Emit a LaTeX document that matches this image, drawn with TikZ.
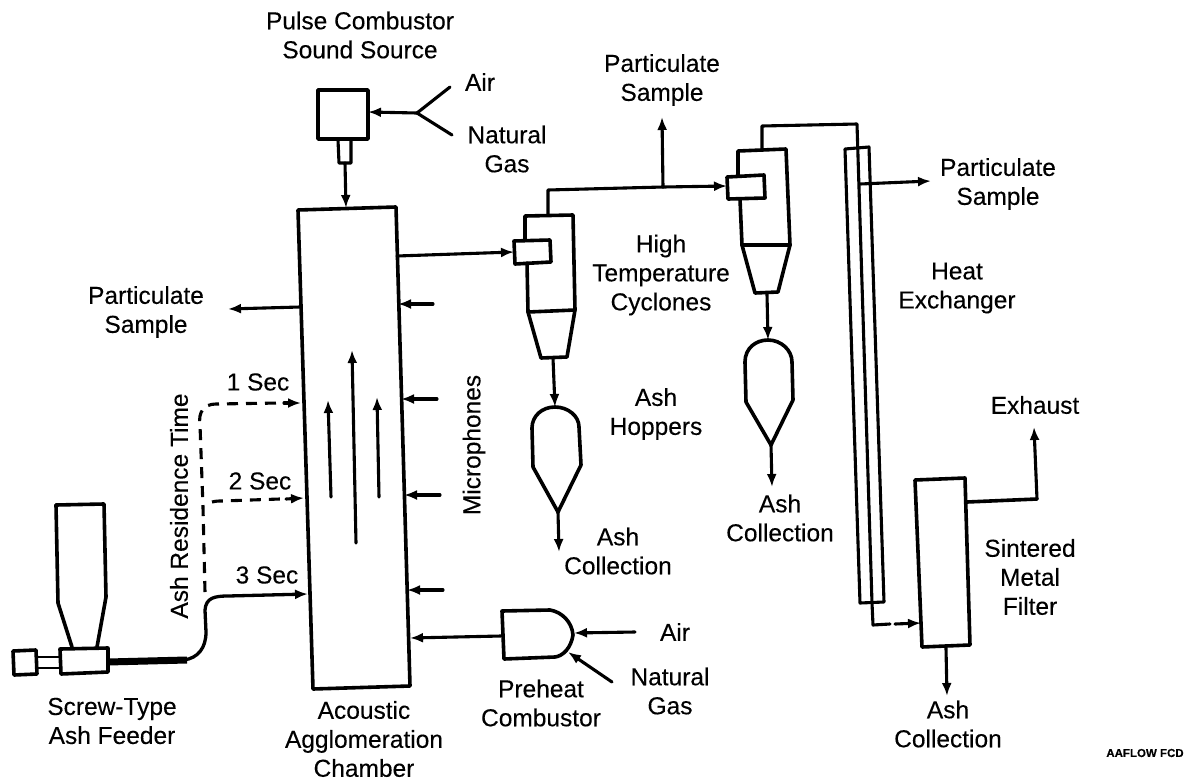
\documentclass[tikz,border=0pt]{standalone}
\usepackage{fontspec}
\setmainfont[FakeBold=0.2]{Liberation Sans}
\usetikzlibrary{arrows.meta}
\tikzset{
  lbl/.style={align=center,inner sep=0pt,font=\fontsize{24.5}{29}\selectfont},
  tiny/.style={inner sep=0pt,font=\fontsize{11.5}{13}\bfseries\selectfont},
  unit/.style={line width=3.6pt,line join=round,line cap=round},
  pipe/.style={line width=3.1pt,line cap=round},
  flow/.style={pipe,-{Latex[length=13pt,width=10pt]}},
  dashline/.style={line width=3.1pt,dash pattern=on 11pt off 8pt},
}
\begin{document}
\begin{tikzpicture}[x=1pt,y=-1pt]
\useasboundingbox (0,0) rectangle (1187,782);
% --- coordinates of the equipment connection points
\coordinate (chTop) at (346,208);
\coordinate (nozzle) at (345,163);
\coordinate (combR) at (368,112);
\coordinate (fork) at (417,113);
\coordinate (forkA) at (450,87);
\coordinate (forkB) at (452,135);
\coordinate (chOut) at (397,256);
\coordinate (cyc1In) at (514,252);
\coordinate (cyc1Top) at (548,215);
\coordinate (cyc1Up) at (548,190);
\coordinate (tee) at (663,187);
\coordinate (sampTop) at (662,117);
\coordinate (cyc2In) at (727,186);
\coordinate (cyc2Top) at (762,150);
\coordinate (cyc2Up) at (762,126);
\coordinate (hxTop) at (857,124);
\coordinate (hxBot) at (872,603);
\coordinate (hxLow) at (873,625);
\coordinate (hxDash) at (890,624);
\coordinate (filtIn) at (921,623);
\coordinate (hxSideA) at (860,184);
\coordinate (hxSideB) at (931,181);
\coordinate (filtOut) at (967,502);
\coordinate (exhElb) at (1037,499);
\coordinate (exhTip) at (1034,427);
\coordinate (filtBot) at (946,648);
\coordinate (filtTip) at (947,696);
\coordinate (cyc1Bot) at (553,358);
\coordinate (hop1Top) at (555,407);
\coordinate (hop1Apex) at (558,512);
\coordinate (hop1Tip) at (559,552);
\coordinate (cyc2Bot) at (767,294);
\coordinate (hop2Top) at (768,340);
\coordinate (hop2Apex) at (771,445);
\coordinate (hop2Tip) at (772,487);
\coordinate (feedOut) at (108,662);
\coordinate (feedThick) at (187,660);
% --- acoustic agglomeration chamber
\draw[unit] (298,210) -- (396,207) -- (410,686) -- (313,689) -- cycle;
\draw[flow] (331,497) -- (328,400);
\draw[flow] (356,543) -- (352,350);
\draw[flow] (379,497) -- (377,397);
% microphones
\coordinate (m1) at (433,304); \coordinate (m1e) at (398,304);
\coordinate (m2) at (437,399); \coordinate (m2e) at (401,399);
\coordinate (m3) at (440,495); \coordinate (m3e) at (404,495);
\coordinate (m4) at (443,590); \coordinate (m4e) at (407,590);
\draw[flow] (m1) -- (m1e);
\draw[flow] (m2) -- (m2e);
\draw[flow] (m3) -- (m3e);
\draw[flow] (m4) -- (m4e);
\coordinate (chSide) at (300,307); \coordinate (sampL) at (228,309);
\draw[flow] (chSide) -- (sampL);
% --- pulse combustor
\draw[unit] (318,90) rectangle (368,139);
\draw[line width=3.1pt,line join=round] (338,140) -- (339,163) -- (351,163) -- (351,140);
\draw[flow] (nozzle) -- (chTop);
\draw[flow] (fork) -- (combR);
\draw[pipe,line join=round] (forkA) -- (fork) -- (forkB);
\draw[flow] (chOut) -- (cyc1In);
% --- cyclones
\draw[unit] (525,240) -- (525,216) -- (573,215) -- (575,310) -- (567,357) -- (541,358) -- (528,312) -- (527,263);
\draw[unit] (528,312) -- (575,310);
\draw[unit] (514,241) -- (550,240) -- (551,262) -- (515,264) -- cycle;
\draw[unit] (738,175) -- (738,151) -- (786,149) -- (790,245) -- (778,292) -- (755,293) -- (742,245) -- (740,199);
\draw[unit] (742,245) -- (790,245);
\draw[unit] (727,177) -- (764,175) -- (765,198) -- (728,199) -- cycle;
\draw[pipe,line join=round] (cyc1Top) -- (cyc1Up) -- (tee);
\draw[flow] (tee) -- (sampTop);
\draw[flow] (tee) -- (cyc2In);
\draw[pipe,line join=round] (cyc2Top) -- (cyc2Up) -- (hxTop) -- (hxBot);
% --- hoppers
\draw[unit] (hop1Top) .. controls (542,407) and (532,416) .. (532,428) -- (533,467) -- (hop1Apex) -- (581,465) -- (579,427) .. controls (579,416) and (568,407) .. (hop1Top);
\draw[unit] (hop2Top) .. controls (756,340) and (745,348) .. (745,362) -- (746,402) -- (hop2Apex) -- (793,400) -- (792,362) .. controls (792,350) and (781,340) .. (hop2Top);
\draw[flow] (cyc1Bot) -- (hop1Top);
\draw[flow] (hop1Apex) -- (hop1Tip);
\draw[flow] (cyc2Bot) -- (hop2Top);
\draw[flow] (hop2Apex) -- (hop2Tip);
% --- heat exchanger
\draw[line width=3.1pt,line join=round] (860,603) -- (845,149) -- (869,147) -- (884,602) -- cycle;
\draw[flow] (hxSideA) -- (hxSideB);
\draw[pipe,line join=round] (hxBot) -- (hxLow) -- (hxDash);
\draw[flow] (895,624) -- (filtIn);
% --- sintered metal filter
\draw[unit] (915,480) -- (965,478) -- (970,645) -- (922,647) -- cycle;
\draw[unit] (filtOut) -- (exhElb);
\draw[flow] (exhElb) -- (exhTip);
\draw[flow] (filtBot) -- (filtTip);
% --- preheat combustor
\draw[unit] (502,611) -- (550,610) .. controls (562,612) and (572,622) .. (573,635) .. controls (571,648) and (563,656) .. (555,657) -- (504,659) -- cycle;
\coordinate (preL) at (501,636); \coordinate (preE) at (410,638);
\draw[flow] (preL) -- (preE);
\coordinate (preA) at (635,632); \coordinate (preAe) at (574,633);
\draw[flow] (preA) -- (preAe);
\coordinate (preG) at (612,682); \coordinate (preGe) at (568,652);
\draw[flow] (preG) -- (preGe);
% --- feeder
\draw[unit] (56,505) -- (104,504) -- (106,597) -- (97,647);
\draw[unit] (56,505) -- (58,603) -- (72,647);
\draw[unit] (60,649) -- (108,648) -- (108,672) -- (61,674) -- cycle;
\draw[unit] (13,651) -- (36,650) -- (37,674) -- (14,675) -- cycle;
\draw[line width=2.6pt] (37,657) -- (60,657) (38,668) -- (60,668);
\draw[line width=7pt] (feedOut) -- (feedThick);
\coordinate (feedFork) at (205,610);
\coordinate (in3) at (308,594);
\coordinate (in2) at (304,498);
\coordinate (in1) at (301,403);
\draw[line width=3.3pt,-{Latex[length=13pt,width=10pt]}] (184,660) .. controls (198,658) and (206,648) .. (206,632) -- (feedFork) .. controls (206,598) and (214,596) .. (228,596) -- (in3);
\draw[dashline] (205,592) -- (203,507) -- (200,425) .. controls (198,412) and (204,404) .. (216,404) -- (280,403);
\draw[flow] (284,403) -- (in1);
\draw[dashline] (212,502) .. controls (216,501) and (218,501) .. (222,501) -- (280,499);
\draw[flow] (286,499) -- (in2);
% --- labels
\node[lbl] (tPulse) at (360,35) {Pulse Combustor\\Sound Source};
\node[lbl] (tAir1) at (480,82) {Air};
\node[lbl] (tGas1) at (507,149) {Natural\\Gas};
\node[lbl] (tSamp1) at (662,80) {Particulate\\Sample};
\node[lbl] (tSamp2) at (998,184) {Particulate\\Sample};
\node[lbl] (tSamp3) at (146,312) {Particulate\\Sample};
\node[lbl] (tCyc) at (661,275) {High\\Temperature\\Cyclones};
\node[lbl] (tHeat) at (957,288) {Heat\\Exchanger};
\node[lbl] (tHop) at (656,414) {Ash\\Hoppers};
\node[lbl] (tCol1) at (618,551) {Ash\\Collection};
\node[lbl] (tCol2) at (780,518) {Ash\\Collection};
\node[lbl] (tCol3) at (948,724) {Ash\\Collection};
\node[lbl] (tExh) at (1035,405) {Exhaust};
\node[lbl] (tSint) at (1030,577) {Sintered\\Metal\\Filter};
\node[lbl] (tPre) at (541,703) {Preheat\\Combustor};
\node[lbl] (tAir2) at (675,632) {Air};
\node[lbl] (tGas2) at (670,691) {Natural\\Gas};
\node[lbl] (tCham) at (364,739) {Acoustic\\Agglomeration\\Chamber};
\node[lbl] (tFeed) at (112,721) {Screw-Type\\Ash Feeder};
\node[lbl] (tS1) at (258,382) {1 Sec};
\node[lbl] (tS2) at (260,481) {2 Sec};
\node[lbl] (tS3) at (267,575) {3 Sec};
\node[lbl,rotate=90] (tRes) at (179,506) {Ash Residence Time};
\node[lbl,rotate=90] (tMic) at (474,445) {Microphones};
\node[tiny] (tAA) at (1145,753) {AAFLOW FCD};
\end{tikzpicture}
\end{document}
